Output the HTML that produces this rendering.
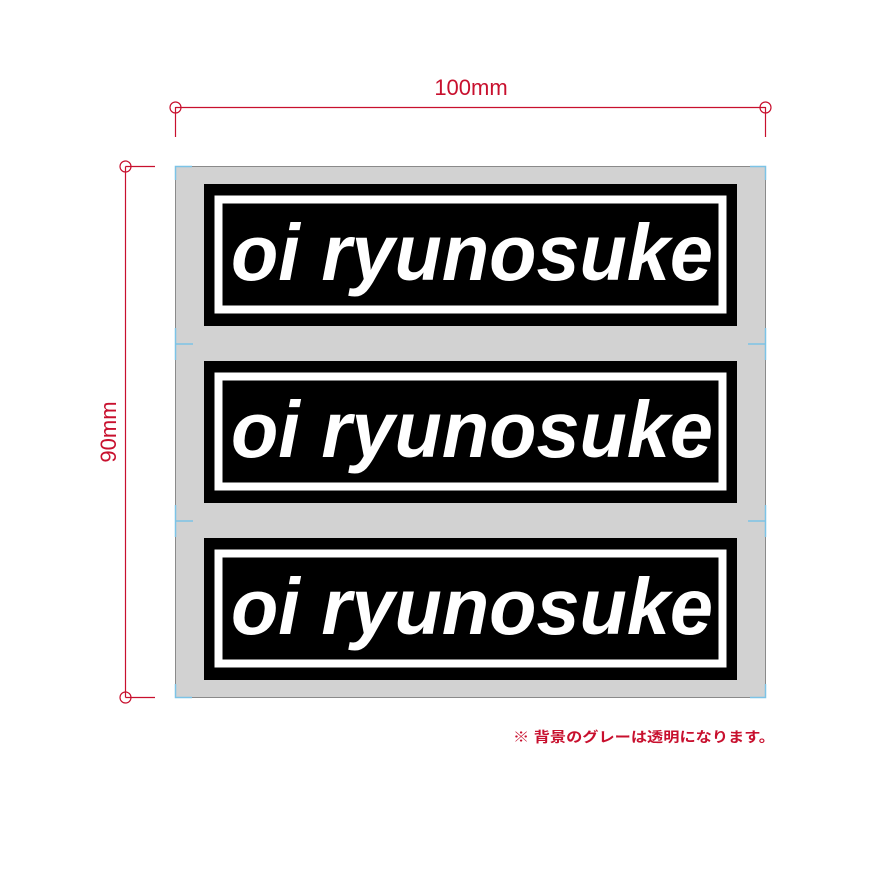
<!DOCTYPE html>
<html><head><meta charset="utf-8"><style>
html,body{margin:0;padding:0;background:#fff;width:886px;height:886px;overflow:hidden}
</style></head><body>
<svg width="886" height="886" viewBox="0 0 886 886" xmlns="http://www.w3.org/2000/svg">
<rect x="175.5" y="166.5" width="590" height="531" fill="#d2d2d2" stroke="#8a8a8a" stroke-width="1"/>
<g stroke="#7cc3e6" stroke-width="1.5" fill="none">
<path d="M175.5 180 V166.5 H192"/>
<path d="M750 166.5 H765.5 V180"/>
<path d="M175.5 684 V697.5 H192"/>
<path d="M750 697.5 H765.5 V684"/>
<path d="M175.5 328 V360 M175.5 344 H193"/>
<path d="M765.5 328 V360 M765.5 344 H748"/>
<path d="M175.5 505 V537 M175.5 521 H193"/>
<path d="M765.5 505 V537 M765.5 521 H748"/>
</g>
<g>
<rect x="204" y="184" width="533" height="142" fill="#000"/>
<rect x="218.5" y="199.5" width="504" height="110" fill="none" stroke="#fff" stroke-width="8"/>
<text x="231" y="280" font-family="Liberation Sans, sans-serif" font-weight="bold" font-style="italic" font-size="80" fill="#fff" textLength="482" lengthAdjust="spacingAndGlyphs">oi ryunosuke</text>
</g>
<g transform="translate(0,177)">
<rect x="204" y="184" width="533" height="142" fill="#000"/>
<rect x="218.5" y="199.5" width="504" height="110" fill="none" stroke="#fff" stroke-width="8"/>
<text x="231" y="280" font-family="Liberation Sans, sans-serif" font-weight="bold" font-style="italic" font-size="80" fill="#fff" textLength="482" lengthAdjust="spacingAndGlyphs">oi ryunosuke</text>
</g>
<g transform="translate(0,354)">
<rect x="204" y="184" width="533" height="142" fill="#000"/>
<rect x="218.5" y="199.5" width="504" height="110" fill="none" stroke="#fff" stroke-width="8"/>
<text x="231" y="280" font-family="Liberation Sans, sans-serif" font-weight="bold" font-style="italic" font-size="80" fill="#fff" textLength="482" lengthAdjust="spacingAndGlyphs">oi ryunosuke</text>
</g>
<g stroke="#c8102e" stroke-width="1.2" fill="none">
<line x1="175.5" y1="107.5" x2="765.5" y2="107.5"/>
<line x1="175.5" y1="107" x2="175.5" y2="137"/>
<line x1="765.5" y1="107" x2="765.5" y2="137"/>
<circle cx="175.5" cy="107.5" r="5.5"/>
<circle cx="765.5" cy="107.5" r="5.5"/>
<line x1="125.5" y1="166.5" x2="125.5" y2="697.5"/>
<line x1="125.5" y1="166.5" x2="155" y2="166.5"/>
<line x1="125.5" y1="697.5" x2="155" y2="697.5"/>
<circle cx="125.5" cy="166.5" r="5.5"/>
<circle cx="125.5" cy="697.5" r="5.5"/>
</g>
<text x="471" y="95" text-anchor="middle" font-family="Liberation Sans, sans-serif" font-size="22" fill="#c8102e">100mm</text>
<text transform="translate(116,432) rotate(-90)" text-anchor="middle" font-family="Liberation Sans, sans-serif" font-size="22" fill="#c8102e">90mm</text>
<text x="513" y="742" font-family="Liberation Sans, 'Noto Sans CJK JP', sans-serif" font-weight="bold" font-size="14" fill="#c8102e" textLength="262" lengthAdjust="spacingAndGlyphs">※ 背景のグレーは透明になります。</text>
</svg>
</body></html>
